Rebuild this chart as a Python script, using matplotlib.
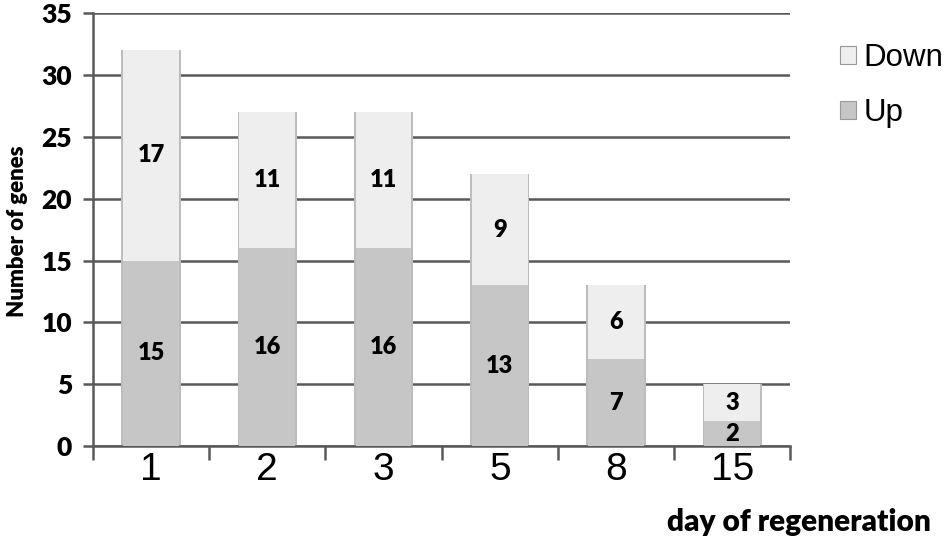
import matplotlib.pyplot as plt
import numpy as np

days = ["1", "2", "3", "5", "8", "15"]
up = [15, 16, 16, 13, 7, 2]
down = [17, 11, 11, 9, 6, 3]

up_color = "#c6c6c6"
down_color = "#eeeeee"
line_color = "#595959"

fig = plt.figure(figsize=(9.45, 5.5), dpi=100)
ax = fig.add_axes([0.0984, 0.189, 0.738, 0.787])

x = np.arange(len(days))
bw = 0.48
# subtle shadow edges on bars
ax.bar(x, np.add(up, down), width=bw + 0.03, color="#bdbdbd", zorder=2)
ax.bar(x, up, width=bw, color=up_color, label="Up", zorder=3)
ax.bar(x, down, width=bw, bottom=up, color=down_color, label="Down", zorder=3)

for i in range(len(days)):
    ax.text(x[i], up[i] / 2, str(up[i]), ha="center", va="center",
            fontsize=17, fontweight="heavy", family="Lato", zorder=4)
    ax.text(x[i], up[i] + down[i] / 2, str(down[i]), ha="center", va="center",
            fontsize=17, fontweight="heavy", family="Lato", zorder=4)

ax.set_xlim(-0.5, len(days) - 0.5)
ax.set_ylim(0, 35)
ax.set_yticks(range(0, 36, 5))
ax.yaxis.grid(True, color=line_color, linewidth=1.8, zorder=1)
ax.set_axisbelow(True)

ax.set_xticks(x)
ax.set_xticklabels(days, fontsize=28, family="Liberation Sans")
ax.set_xticks(np.arange(-0.5, len(days)), minor=True)
ax.tick_params(axis="x", which="major", length=0, pad=4)
ax.tick_params(axis="x", which="minor", length=10, width=1.8, color=line_color)
ax.tick_params(axis="y", length=7, width=1.8, color=line_color, labelsize=19, pad=8)
for lab in ax.get_yticklabels():
    lab.set_family("Lato")
    lab.set_fontweight("heavy")

for s in ["top", "right"]:
    ax.spines[s].set_visible(False)
for s in ["left", "bottom"]:
    ax.spines[s].set_color(line_color)
    ax.spines[s].set_linewidth(1.8)

fig.text(0.019, 0.58, "Number of genes", rotation=90, ha="center", va="center",
         fontsize=16, fontweight="heavy", family="Lato")
fig.text(0.985, 0.05, "day of regeneration", ha="right", va="center",
         fontsize=21.5, fontweight="heavy", family="Lato")

handles, labels = ax.get_legend_handles_labels()
leg = fig.legend(handles[::-1], labels[::-1], loc="upper left",
                 bbox_to_anchor=(840 / 945, 1 - 43 / 550), frameon=False,
                 prop={"family": "Liberation Sans", "size": 22.5},
                 borderpad=0, borderaxespad=0,
                 handlelength=0.5, handleheight=0.5, handletextpad=0.25,
                 labelspacing=0.8)
for h in leg.legend_handles:
    h.set_edgecolor("#999999")
    h.set_linewidth(0.8)

fig.savefig("out.png", dpi=100)
